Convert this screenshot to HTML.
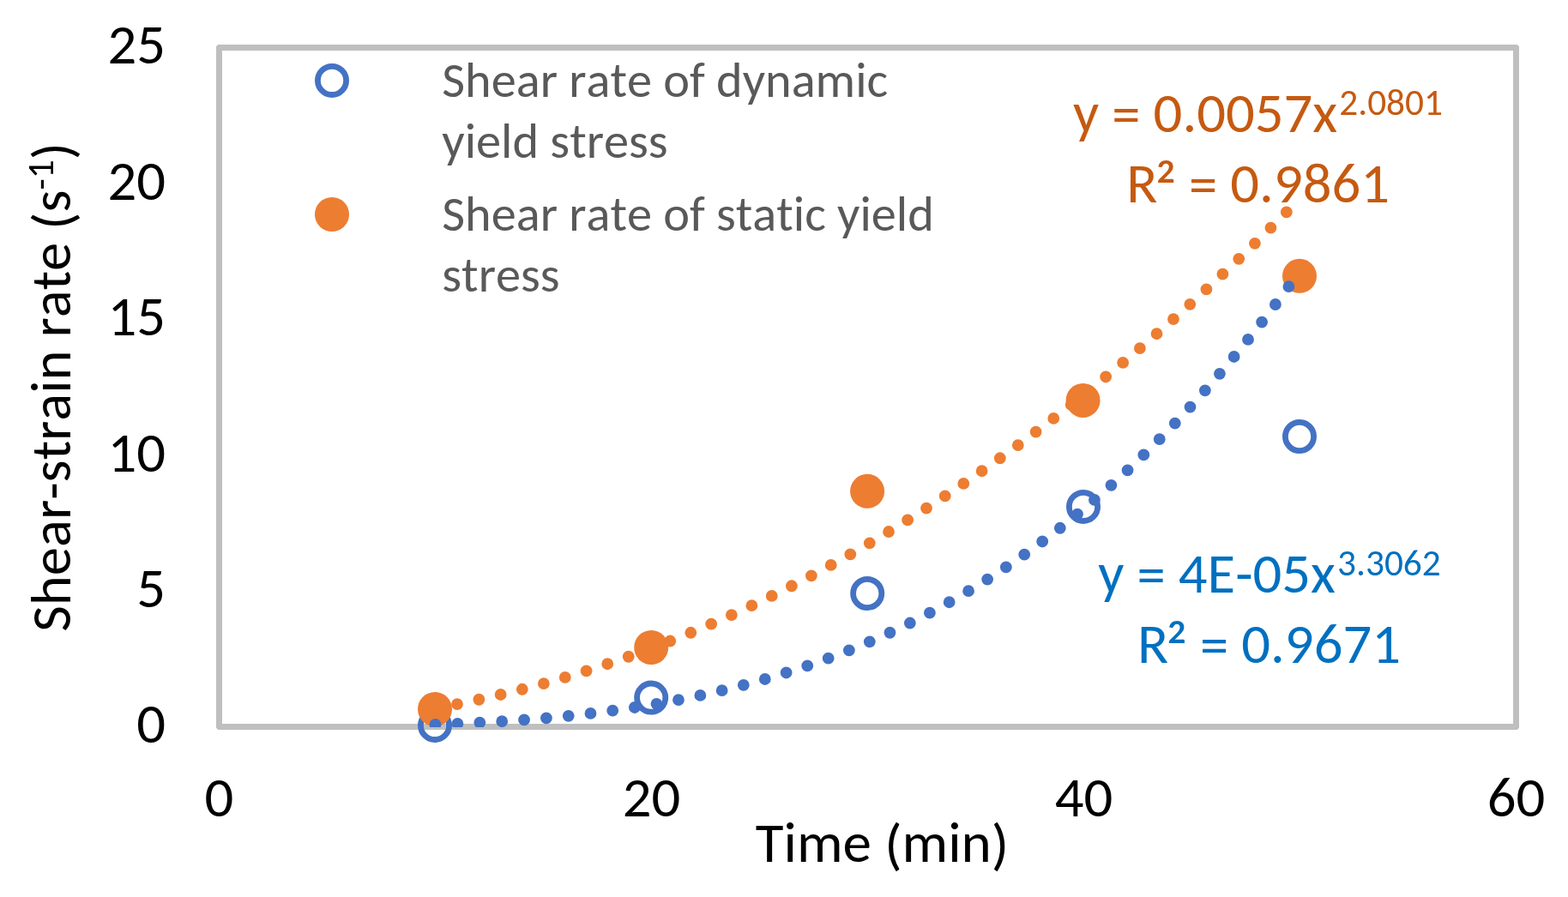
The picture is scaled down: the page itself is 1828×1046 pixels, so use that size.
<!DOCTYPE html>
<html><head><meta charset="utf-8"><title>Shear-strain rate chart</title>
<style>html,body{margin:0;padding:0;background:#fff;width:1828px;height:1046px;overflow:hidden}svg{display:block}text{font-kerning:none;font-variant-ligatures:none}</style>
</head><body>
<svg xmlns="http://www.w3.org/2000/svg" width="1828" height="1046" viewBox="0 0 1828 1046">
<defs><clipPath id="pc"><rect x="255.5" y="55.5" width="1512" height="792.5"/></clipPath></defs>
<rect x="0" y="0" width="1828" height="1046" fill="#fff"/>
<path fill="#BFBFBF" fill-rule="evenodd" d="M254.2 52H1768.8L1771 54.2V848.8L1768.8 851H254.2L252 848.8V54.2Z M259 59V844H1764V59Z"/>
<circle cx="507.0" cy="845.9" r="16.6" fill="none" stroke="#4472C4" stroke-width="6.8"/>
<circle cx="759.2" cy="813.6" r="16.6" fill="none" stroke="#4472C4" stroke-width="6.8"/>
<circle cx="1011.2" cy="692.0" r="16.6" fill="none" stroke="#4472C4" stroke-width="6.8"/>
<circle cx="1263.0" cy="590.9" r="16.6" fill="none" stroke="#4472C4" stroke-width="6.8"/>
<circle cx="1515.0" cy="509.0" r="16.6" fill="none" stroke="#4472C4" stroke-width="6.8"/>
<circle cx="507.0" cy="827.0" r="20" fill="#ED7D31"/>
<circle cx="759.2" cy="755.0" r="20" fill="#ED7D31"/>
<circle cx="1011.1" cy="572.8" r="20" fill="#ED7D31"/>
<circle cx="1262.6" cy="466.9" r="20" fill="#ED7D31"/>
<circle cx="1515.0" cy="321.8" r="20" fill="#ED7D31"/>
<g clip-path="url(#pc)" fill="none" stroke-linecap="round" stroke-width="13.8" stroke-dasharray="0 25.93">
<path d="M507.50 825.84 L511.70 825.08 L515.90 824.31 L520.10 823.53 L524.30 822.73 L528.50 821.92 L532.70 821.09 L536.90 820.25 L541.10 819.40 L545.30 818.54 L549.50 817.65 L553.70 816.76 L557.90 815.85 L562.10 814.93 L566.30 814.00 L570.50 813.05 L574.70 812.09 L578.90 811.11 L583.10 810.12 L587.30 809.12 L591.50 808.10 L595.70 807.07 L599.90 806.02 L604.10 804.96 L608.30 803.89 L612.50 802.80 L616.70 801.70 L620.90 800.59 L625.10 799.46 L629.30 798.32 L633.50 797.16 L637.70 795.99 L641.90 794.81 L646.10 793.61 L650.30 792.40 L654.50 791.17 L658.70 789.93 L662.90 788.67 L667.10 787.41 L671.30 786.12 L675.50 784.83 L679.70 783.52 L683.90 782.19 L688.10 780.85 L692.30 779.50 L696.50 778.13 L700.70 776.75 L704.90 775.36 L709.10 773.95 L713.30 772.52 L717.50 771.08 L721.70 769.63 L725.90 768.17 L730.10 766.69 L734.30 765.19 L738.50 763.68 L742.70 762.16 L746.90 760.62 L751.10 759.07 L755.30 757.50 L759.50 755.92 L763.70 754.33 L767.90 752.72 L772.10 751.10 L776.30 749.46 L780.50 747.81 L784.70 746.14 L788.90 744.46 L793.10 742.77 L797.30 741.06 L801.50 739.33 L805.70 737.59 L809.90 735.84 L814.10 734.08 L818.30 732.29 L822.50 730.50 L826.70 728.69 L830.90 726.86 L835.10 725.03 L839.30 723.17 L843.50 721.30 L847.70 719.42 L851.90 717.53 L856.10 715.61 L860.30 713.69 L864.50 711.75 L868.70 709.79 L872.90 707.82 L877.10 705.84 L881.30 703.84 L885.50 701.83 L889.70 699.80 L893.90 697.76 L898.10 695.70 L902.30 693.63 L906.50 691.55 L910.70 689.45 L914.90 687.33 L919.10 685.20 L923.30 683.06 L927.50 680.90 L931.70 678.73 L935.90 676.54 L940.10 674.34 L944.30 672.12 L948.50 669.89 L952.70 667.64 L956.90 665.38 L961.10 663.11 L965.30 660.81 L969.50 658.51 L973.70 656.19 L977.90 653.86 L982.10 651.51 L986.30 649.14 L990.50 646.76 L994.70 644.37 L998.90 641.96 L1003.10 639.54 L1007.30 637.10 L1011.50 634.65 L1015.70 632.18 L1019.90 629.70 L1024.10 627.20 L1028.30 624.69 L1032.50 622.17 L1036.70 619.62 L1040.90 617.07 L1045.10 614.50 L1049.30 611.91 L1053.50 609.31 L1057.70 606.70 L1061.90 604.07 L1066.10 601.42 L1070.30 598.76 L1074.50 596.09 L1078.70 593.40 L1082.90 590.70 L1087.10 587.98 L1091.30 585.24 L1095.50 582.49 L1099.70 579.73 L1103.90 576.95 L1108.10 574.16 L1112.30 571.35 L1116.50 568.53 L1120.70 565.69 L1124.90 562.84 L1129.10 559.97 L1133.30 557.08 L1137.50 554.19 L1141.70 551.27 L1145.90 548.35 L1150.10 545.40 L1154.30 542.45 L1158.50 539.47 L1162.70 536.49 L1166.90 533.48 L1171.10 530.47 L1175.30 527.43 L1179.50 524.39 L1183.70 521.32 L1187.90 518.25 L1192.10 515.15 L1196.30 512.05 L1200.50 508.92 L1204.70 505.78 L1208.90 502.63 L1213.10 499.46 L1217.30 496.28 L1221.50 493.08 L1225.70 489.87 L1229.90 486.64 L1234.10 483.40 L1238.30 480.14 L1242.50 476.87 L1246.70 473.58 L1250.90 470.28 L1255.10 466.96 L1259.30 463.63 L1263.50 460.28 L1267.70 456.91 L1271.90 453.54 L1276.10 450.14 L1280.30 446.73 L1284.50 443.31 L1288.70 439.87 L1292.90 436.41 L1297.10 432.94 L1301.30 429.46 L1305.50 425.96 L1309.70 422.45 L1313.90 418.92 L1318.10 415.37 L1322.30 411.81 L1326.50 408.23 L1330.70 404.64 L1334.90 401.04 L1339.10 397.42 L1343.30 393.78 L1347.50 390.13 L1351.70 386.46 L1355.90 382.78 L1360.10 379.08 L1364.30 375.37 L1368.50 371.64 L1372.70 367.90 L1376.90 364.14 L1381.10 360.37 L1385.30 356.58 L1389.50 352.78 L1393.70 348.96 L1397.90 345.12 L1402.10 341.27 L1406.30 337.41 L1410.50 333.53 L1414.70 329.63 L1418.90 325.72 L1423.10 321.80 L1427.30 317.86 L1431.50 313.90 L1435.70 309.93 L1439.90 305.94 L1444.10 301.94 L1448.30 297.92 L1452.50 293.89 L1456.70 289.84 L1460.90 285.78 L1465.10 281.70 L1469.30 277.60 L1473.50 273.49 L1477.70 269.37 L1481.90 265.23 L1486.10 261.07 L1490.30 256.90 L1494.50 252.72 L1498.70 248.51 L1502.90 244.30 L1507.10 240.06 L1511.30 235.82 L1515.50 231.55" stroke="#ED7D31"/>
<path d="M507.50 844.90 L511.70 844.76 L515.90 844.61 L520.10 844.45 L524.30 844.29 L528.50 844.12 L532.70 843.94 L536.90 843.76 L541.10 843.57 L545.30 843.38 L549.50 843.18 L553.70 842.97 L557.90 842.76 L562.10 842.53 L566.30 842.31 L570.50 842.07 L574.70 841.83 L578.90 841.58 L583.10 841.32 L587.30 841.05 L591.50 840.78 L595.70 840.50 L599.90 840.21 L604.10 839.91 L608.30 839.60 L612.50 839.29 L616.70 838.96 L620.90 838.63 L625.10 838.29 L629.30 837.94 L633.50 837.58 L637.70 837.21 L641.90 836.83 L646.10 836.44 L650.30 836.04 L654.50 835.64 L658.70 835.22 L662.90 834.79 L667.10 834.35 L671.30 833.90 L675.50 833.44 L679.70 832.97 L683.90 832.49 L688.10 832.00 L692.30 831.50 L696.50 830.98 L700.70 830.46 L704.90 829.92 L709.10 829.37 L713.30 828.81 L717.50 828.23 L721.70 827.65 L725.90 827.05 L730.10 826.44 L734.30 825.82 L738.50 825.19 L742.70 824.54 L746.90 823.88 L751.10 823.20 L755.30 822.51 L759.50 821.81 L763.70 821.10 L767.90 820.37 L772.10 819.63 L776.30 818.87 L780.50 818.10 L784.70 817.32 L788.90 816.52 L793.10 815.70 L797.30 814.88 L801.50 814.03 L805.70 813.17 L809.90 812.30 L814.10 811.41 L818.30 810.50 L822.50 809.58 L826.70 808.65 L830.90 807.69 L835.10 806.73 L839.30 805.74 L843.50 804.74 L847.70 803.72 L851.90 802.69 L856.10 801.63 L860.30 800.57 L864.50 799.48 L868.70 798.38 L872.90 797.25 L877.10 796.12 L881.30 794.96 L885.50 793.78 L889.70 792.59 L893.90 791.38 L898.10 790.15 L902.30 788.90 L906.50 787.63 L910.70 786.35 L914.90 785.04 L919.10 783.72 L923.30 782.37 L927.50 781.01 L931.70 779.62 L935.90 778.22 L940.10 776.79 L944.30 775.35 L948.50 773.89 L952.70 772.40 L956.90 770.89 L961.10 769.37 L965.30 767.82 L969.50 766.25 L973.70 764.66 L977.90 763.05 L982.10 761.41 L986.30 759.76 L990.50 758.08 L994.70 756.38 L998.90 754.65 L1003.10 752.91 L1007.30 751.14 L1011.50 749.35 L1015.70 747.53 L1019.90 745.70 L1024.10 743.83 L1028.30 741.95 L1032.50 740.04 L1036.70 738.11 L1040.90 736.15 L1045.10 734.17 L1049.30 732.17 L1053.50 730.14 L1057.70 728.08 L1061.90 726.00 L1066.10 723.90 L1070.30 721.77 L1074.50 719.61 L1078.70 717.43 L1082.90 715.22 L1087.10 712.99 L1091.30 710.73 L1095.50 708.45 L1099.70 706.13 L1103.90 703.80 L1108.10 701.43 L1112.30 699.04 L1116.50 696.62 L1120.70 694.17 L1124.90 691.70 L1129.10 689.19 L1133.30 686.66 L1137.50 684.11 L1141.70 681.52 L1145.90 678.90 L1150.10 676.26 L1154.30 673.59 L1158.50 670.89 L1162.70 668.16 L1166.90 665.40 L1171.10 662.61 L1175.30 659.79 L1179.50 656.94 L1183.70 654.06 L1187.90 651.15 L1192.10 648.21 L1196.30 645.24 L1200.50 642.24 L1204.70 639.21 L1208.90 636.15 L1213.10 633.05 L1217.30 629.93 L1221.50 626.77 L1225.70 623.58 L1229.90 620.36 L1234.10 617.11 L1238.30 613.82 L1242.50 610.50 L1246.70 607.15 L1250.90 603.77 L1255.10 600.35 L1259.30 596.90 L1263.50 593.42 L1267.70 589.90 L1271.90 586.35 L1276.10 582.77 L1280.30 579.15 L1284.50 575.49 L1288.70 571.81 L1292.90 568.08 L1297.10 564.33 L1301.30 560.53 L1305.50 556.71 L1309.70 552.84 L1313.90 548.94 L1318.10 545.01 L1322.30 541.04 L1326.50 537.03 L1330.70 532.99 L1334.90 528.91 L1339.10 524.79 L1343.30 520.64 L1347.50 516.44 L1351.70 512.22 L1355.90 507.95 L1360.10 503.65 L1364.30 499.30 L1368.50 494.92 L1372.70 490.51 L1376.90 486.05 L1381.10 481.56 L1385.30 477.02 L1389.50 472.45 L1393.70 467.84 L1397.90 463.18 L1402.10 458.49 L1406.30 453.76 L1410.50 448.99 L1414.70 444.18 L1418.90 439.33 L1423.10 434.44 L1427.30 429.50 L1431.50 424.53 L1435.70 419.51 L1439.90 414.46 L1444.10 409.36 L1448.30 404.22 L1452.50 399.04 L1456.70 393.82 L1460.90 388.55 L1465.10 383.24 L1469.30 377.89 L1473.50 372.50 L1477.70 367.06 L1481.90 361.58 L1486.10 356.06 L1490.30 350.49 L1494.50 344.88 L1498.70 339.22 L1502.90 333.52 L1507.10 327.78 L1511.30 321.99 L1515.50 316.16" stroke="#4472C4"/>
</g>
<circle cx="387" cy="93.9" r="16.6" fill="none" stroke="#4472C4" stroke-width="6.8"/>
<circle cx="387" cy="250" r="20" fill="#ED7D31"/>
<g font-family="Carlito, 'Liberation Sans', sans-serif">
<g font-size="66.67" fill="#000" text-anchor="end">
<text textLength="33.80" lengthAdjust="spacingAndGlyphs" x="193" y="866.3">0</text>
<text textLength="33.80" lengthAdjust="spacingAndGlyphs" x="193" y="707.9">5</text>
<text textLength="67.58" lengthAdjust="spacingAndGlyphs" x="193" y="549.5">10</text>
<text textLength="67.58" lengthAdjust="spacingAndGlyphs" x="193" y="391.1">15</text>
<text textLength="67.58" lengthAdjust="spacingAndGlyphs" x="193" y="232.7">20</text>
<text textLength="67.58" lengthAdjust="spacingAndGlyphs" x="193" y="74.3">25</text>
</g>
<g font-size="66.67" fill="#000" text-anchor="middle">
<text textLength="33.80" lengthAdjust="spacingAndGlyphs" x="255.5" y="952">0</text>
<text textLength="67.58" lengthAdjust="spacingAndGlyphs" x="759.5" y="952">20</text>
<text textLength="67.58" lengthAdjust="spacingAndGlyphs" x="1263.5" y="952">40</text>
<text textLength="67.58" lengthAdjust="spacingAndGlyphs" x="1767.5" y="952">60</text>
</g>
<text textLength="295.48" lengthAdjust="spacingAndGlyphs" x="1028.5" y="1005.1" font-size="66.67" fill="#000" text-anchor="middle">Time <tspan dy="1.9">(</tspan><tspan dy="-1.9">min</tspan><tspan dy="1.9">)</tspan></text>
<text textLength="570.80" lengthAdjust="spacingAndGlyphs" transform="translate(81.9 451.4) rotate(-90)" font-size="66.67" fill="#000" text-anchor="middle">Shear-strain rate <tspan dy="1.9">(</tspan><tspan dy="-1.9">s</tspan><tspan font-size="43.3" dy="-20">-1</tspan><tspan dy="21.9">)</tspan></text>
<g font-size="58.33" fill="#595959">
<text textLength="519.98" lengthAdjust="spacingAndGlyphs" x="515.3" y="112.8">Shear rate of dynamic</text>
<text textLength="263.38" lengthAdjust="spacingAndGlyphs" x="515.3" y="183.9">yield stress</text>
<text textLength="573.61" lengthAdjust="spacingAndGlyphs" x="515.3" y="268.5">Shear rate of static yield</text>
<text textLength="137.34" lengthAdjust="spacingAndGlyphs" x="515.3" y="339.7">stress</text>
</g>
<g font-size="66.67" fill="#C55A11">
<text textLength="308.14" lengthAdjust="spacingAndGlyphs" x="1251.10" y="154.10">y <tspan dy="2.3">=</tspan><tspan dy="-2.3"> 0.0057x</tspan></text>
<text textLength="120.66" lengthAdjust="spacingAndGlyphs" x="1561.25" y="133.80" font-size="43.3">2.0801</text>
<text textLength="36.20" lengthAdjust="spacingAndGlyphs" x="1313.20" y="235.80">R</text>
<text textLength="25.14" lengthAdjust="spacingAndGlyphs" x="1346.45" y="244.50" font-size="74.8">²</text>
<text textLength="234.03" lengthAdjust="spacingAndGlyphs" x="1386.07" y="235.80"><tspan dy="2.3">=</tspan><tspan dy="-2.3"> 0.9861</tspan></text>
</g>
<g font-size="66.67" fill="#0070C0">
<text textLength="276.70" lengthAdjust="spacingAndGlyphs" x="1280.30" y="691.00">y <tspan dy="2.3">=</tspan><tspan dy="-2.3"> 4E-05x</tspan></text>
<text textLength="120.66" lengthAdjust="spacingAndGlyphs" x="1559.10" y="671.00" font-size="43.3">3.3062</text>
<text textLength="36.20" lengthAdjust="spacingAndGlyphs" x="1326.00" y="773.00">R</text>
<text textLength="25.14" lengthAdjust="spacingAndGlyphs" x="1359.35" y="781.60" font-size="74.8">²</text>
<text textLength="234.03" lengthAdjust="spacingAndGlyphs" x="1398.97" y="773.00"><tspan dy="2.3">=</tspan><tspan dy="-2.3"> 0.9671</tspan></text>
</g>
</g>
</svg>
</body></html>
